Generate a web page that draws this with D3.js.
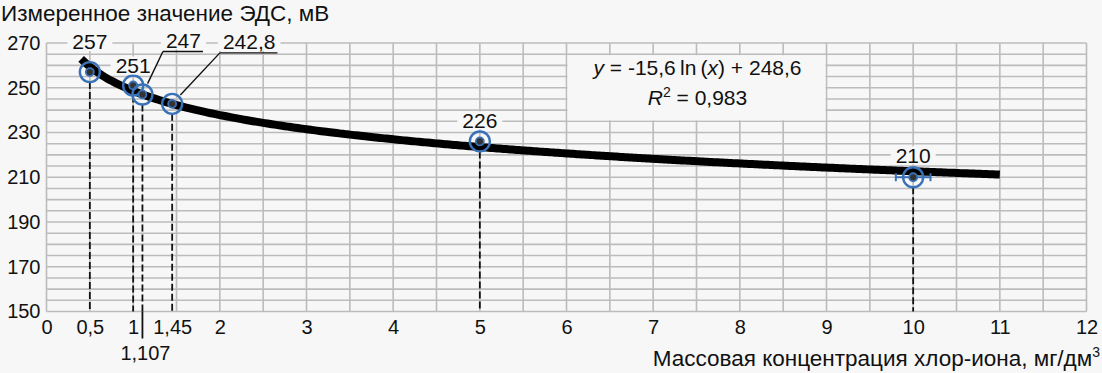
<!DOCTYPE html>
<html><head><meta charset="utf-8">
<script src="https://cdn.jsdelivr.net/npm/d3@7"></script>
<style>
html,body{margin:0;padding:0;background:#f7f7f7;}
svg{display:block;font-family:"Liberation Sans",Arial,sans-serif;}
</style></head>
<body><svg id="c" width="1102" height="373"></svg>
<script>
// ---- data ----
const pointX = [0.5, 1, 1.107, 1.45, 5, 10];
const pointY = [257, 251, 247, 242.8, 226, 210];
const pointLabels = ["257", "251", "247", "242,8", "226", "210"];
const xTickValues = [0, 0.5, 1, 1.45, 2, 3, 4, 5, 6, 7, 8, 9, 10, 11, 12];
const xTickLabels = ["0", "0,5", "1", "1,45", "2", "3", "4", "5", "6", "7", "8", "9", "10", "11", "12"];
const yTickValues = [150, 170, 190, 210, 230, 250, 270];
const yTickLabels = ["150", "170", "190", "210", "230", "250", "270"];
const extraTickValue = 1.107, extraTickLabel = "1,107";
const fitA = -15.6, fitB = 248.6, fitR2 = "0,983";
const fitRange = [0.4, 11];
const errX = [0, 0, 0, 0, 0, 0.2];
const yTitle = "Измеренное значение ЭДС, мВ";
const xTitle = "Массовая концентрация хлор-иона, мг/дм";

const W = 1102, H = 373;
const svg = d3.select("#c");
const bg = "#f7f7f7", gridC = "#bcbcbc", blue = "#3a72b8";
const x = d3.scaleLinear().domain([0, 12]).range([46.5, 1086.5]);
const y = d3.scaleLinear().domain([150, 270]).range([311.5, 43]);

svg.append("rect").attr("width", W).attr("height", H).attr("fill", bg);

// grid
const g = svg.append("g");
g.selectAll("line.v").data(d3.range(0, 12.01, 0.5)).join("line")
  .attr("x1", d => x(d)).attr("x2", d => x(d)).attr("y1", y(270)).attr("y2", y(150))
  .attr("stroke", gridC).attr("stroke-width", 1.6);
g.selectAll("line.h").data(d3.range(150, 270.1, 5)).join("line")
  .attr("y1", d => y(d)).attr("y2", d => y(d)).attr("x1", x(0)).attr("x2", x(12))
  .attr("stroke", gridC).attr("stroke-width", 1.6);

// equation box
svg.append("rect").attr("x", x(6) + 1).attr("y", y(265) + 1)
  .attr("width", x(9) - x(6) - 2).attr("height", y(235) - y(265) - 2).attr("fill", bg);

// drop lines
const drops = svg.append("g");
pointX.forEach((px, i) => {
  drops.append("line").attr("x1", x(px)).attr("x2", x(px))
    .attr("y1", y(pointY[i]) + 10).attr("y2", y(150))
    .attr("stroke", "#111").attr("stroke-width", 1.8).attr("stroke-dasharray", "7,3");
});
drops.append("line").attr("x1", x(extraTickValue)).attr("x2", x(extraTickValue))
  .attr("y1", y(150)).attr("y2", y(150) + 27).attr("stroke", "#111").attr("stroke-width", 1.8);

// trend curve
const curvePts = d3.range(fitRange[0], fitRange[1] + 0.001, 0.05).map(v => [v, fitA * Math.log(v) + fitB]);
svg.append("path").datum(curvePts)
  .attr("d", d3.line().x(d => x(d[0])).y(d => y(d[1])).curve(d3.curveMonotoneX))
  .attr("fill", "none").attr("stroke", "#000").attr("stroke-width", 8);

// error bars
pointX.forEach((px, i) => {
  if (!errX[i]) return;
  const cy = y(pointY[i]);
  const e = svg.append("g").attr("stroke", blue).attr("stroke-width", 2);
  e.append("line").attr("x1", x(px - errX[i])).attr("x2", x(px + errX[i])).attr("y1", cy).attr("y2", cy);
  [px - errX[i], px + errX[i]].forEach(v => e.append("line").attr("x1", x(v)).attr("x2", x(v)).attr("y1", cy - 4).attr("y2", cy + 4));
});

// markers
pointX.forEach((px, i) => {
  const cx = x(px), cy = y(pointY[i]);
  svg.append("circle").attr("cx", cx).attr("cy", cy).attr("r", 10).attr("fill", "none").attr("stroke", blue).attr("stroke-width", 2.4);
  svg.append("circle").attr("cx", cx).attr("cy", cy).attr("r", 4).attr("fill", "#333").attr("stroke", blue).attr("stroke-width", 1.8);
});

// point labels (offsets in px relative to the point)
const fs = 21, fsTick = 20, fsTitle = 22.5;
const labelOffsets = [[0, -30], [0, -20], [41, -54], [77, -62], [0, -21], [0, -22]];
const leader = [null, null, true, true, null, null];
pointX.forEach((px, i) => {
  const cx = x(px), cy = y(pointY[i]);
  const lx = cx + labelOffsets[i][0], ly = cy + labelOffsets[i][1];
  const t = svg.append("text").attr("x", lx).attr("y", ly).attr("dy", "0.35em")
    .attr("text-anchor", "middle").attr("font-size", fs).attr("fill", "#111").text(pointLabels[i]);
  const bb = t.node().getBBox();
  svg.insert("rect", "text").attr("x", bb.x - 5).attr("y", ly - 9).attr("width", bb.width + 10).attr("height", 18).attr("fill", bg);
  if (leader[i]) {
    const ux1 = bb.x - 3, ux2 = bb.x + bb.width + 2, uy = ly + 11;
    svg.append("line").attr("x1", ux1).attr("x2", ux2).attr("y1", uy).attr("y2", uy).attr("stroke", "#111").attr("stroke-width", 1.4);
    const dx = ux1 - cx, dy = uy - cy, d = Math.hypot(dx, dy);
    svg.append("line").attr("x1", ux1).attr("y1", uy).attr("x2", cx + dx / d * 12).attr("y2", cy + dy / d * 12)
      .attr("stroke", "#111").attr("stroke-width", 1.4);
  }
});

// equation text
const eqx = (x(6) + x(9)) / 2 + 1;
const eq = svg.append("text").attr("x", eqx).attr("y", y(259) + 7).attr("text-anchor", "middle").attr("font-size", fs).attr("fill", "#111");
eq.append("tspan").attr("font-style", "italic").text("y");
eq.append("tspan").text(" = " + String(fitA).replace(".", ",") + "\u2009ln\u2009(");
eq.append("tspan").attr("font-style", "italic").text("x");
eq.append("tspan").text(") + " + String(fitB).replace(".", ","));
const r2 = svg.append("text").attr("x", eqx).attr("y", y(245.5) + 7).attr("text-anchor", "middle").attr("font-size", fs).attr("fill", "#111");
r2.append("tspan").attr("font-style", "italic").text("R");
r2.append("tspan").attr("font-size", 14).attr("dy", -8).text("2");
r2.append("tspan").attr("dy", 8).text(" = " + fitR2);

// axes labels
const xa = d3.axisBottom(x).tickValues(xTickValues).tickFormat((d, i) => xTickLabels[i]).tickSize(0).tickPadding(8);
const gx = svg.append("g").attr("transform", `translate(0,${y(150)})`).call(xa);
gx.select(".domain").remove();
gx.selectAll("text").attr("font-size", fsTick).attr("fill", "#111").attr("font-family", "Liberation Sans, Arial, sans-serif");
svg.append("text").attr("x", x(extraTickValue) + 3).attr("y", 360).attr("text-anchor", "middle")
  .attr("font-size", fsTick).attr("fill", "#111").text(extraTickLabel);

const ya = d3.axisLeft(y).tickValues(yTickValues).tickFormat((d, i) => yTickLabels[i]).tickSize(0).tickPadding(6);
const gy = svg.append("g").attr("transform", `translate(${x(0)},0)`).call(ya);
gy.select(".domain").remove();
gy.selectAll("text").attr("font-size", fsTick).attr("fill", "#111").attr("font-family", "Liberation Sans, Arial, sans-serif");

svg.append("text").attr("x", 1).attr("y", 21).attr("font-size", fsTitle).attr("fill", "#111").text(yTitle);
const xt = svg.append("text").attr("x", 1100).attr("y", 366).attr("text-anchor", "end").attr("font-size", fsTitle).attr("fill", "#111");
xt.append("tspan").text(xTitle);
xt.append("tspan").attr("font-size", 14).attr("dy", -9).text("3");
</script></body></html>
